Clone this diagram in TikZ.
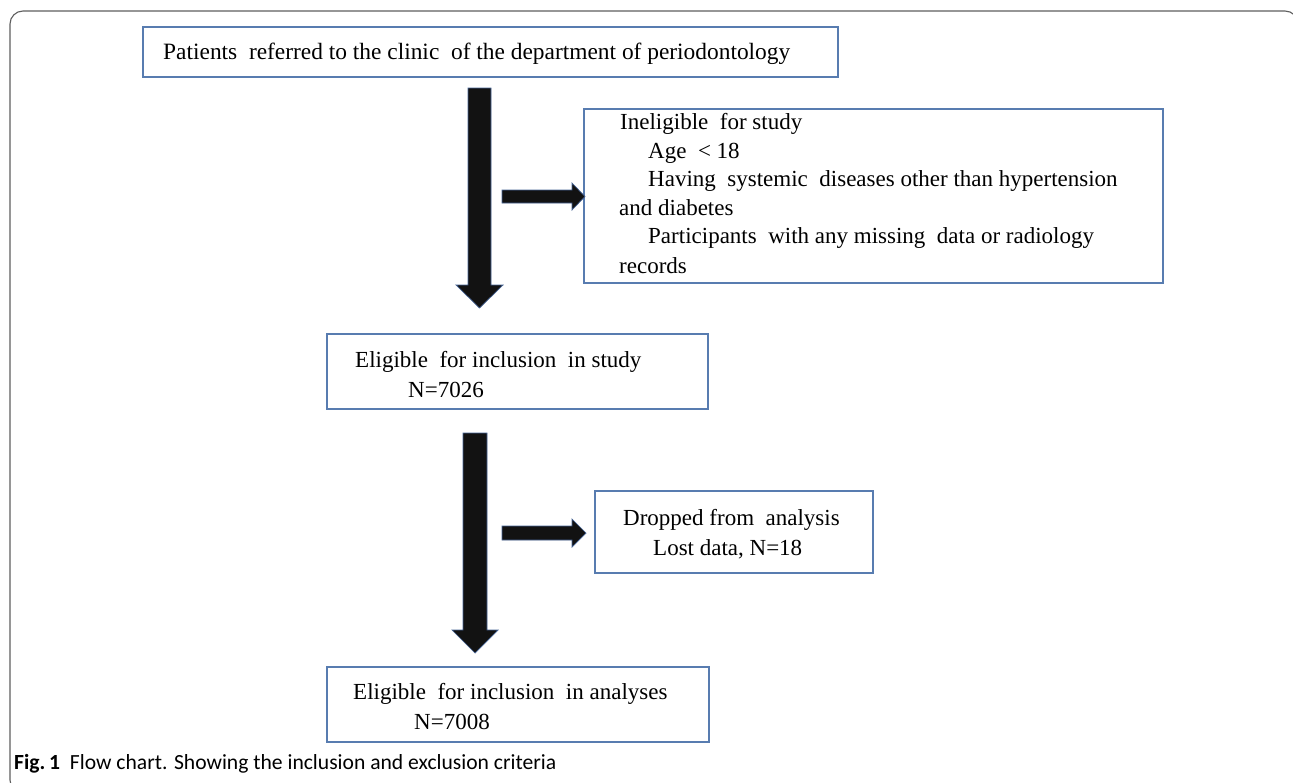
\documentclass[tikz,border=0pt]{standalone}
\usepackage{fontspec}
\setmainfont{Liberation Serif}
\newfontfamily\capfont{Carlito}
\usetikzlibrary{calc}
\definecolor{boxblue}{RGB}{88,124,176}
\definecolor{arrowedge}{RGB}{70,100,150}
\definecolor{framegray}{RGB}{95,95,95}
\tikzset{
  box/.style={draw=boxblue, line width=1.6pt, fill=white, inner sep=0pt, outer sep=0pt, anchor=north west},
  txt/.style={anchor=base west, inner sep=0pt, font=\fontsize{23}{28}\selectfont},
  blockarrow/.style={fill=black!93, draw=arrowedge, line width=0.7pt, line join=miter},
}
\newcommand{\blkdown}[5]{\filldraw[blockarrow] let \p1=(#1), \p2=(#2) in
  (\x1-#3,\y1) -- (\x1+#3,\y1) -- (\x1+#3,\y2+#5) -- (\x1+#4,\y2+#5) -- (\x2,\y2)
  -- (\x1-#4,\y2+#5) -- (\x1-#3,\y2+#5) -- cycle;}
\newcommand{\blkright}[5]{\filldraw[blockarrow] let \p1=(#1), \p2=(#2) in
  (\x1,\y1+#3) -- (\x2-#5,\y1+#3) -- (\x2-#5,\y1+#4) -- (\x2,\y2)
  -- (\x2-#5,\y1-#4) -- (\x2-#5,\y1-#3) -- (\x1,\y1-#3) -- cycle;}
\begin{document}
\begin{tikzpicture}[x=1pt, y=-1pt]
\useasboundingbox (0,0) rectangle (1293,782);
\clip (0,0) rectangle (1293,782);
\fill[white] (0,0) rectangle (1293,782);
% outer frame
\draw[framegray, line width=1.1pt, rounded corners=13pt] (10,11) rectangle (1298,793);

% boxes
\node[box, minimum width=695pt, minimum height=50pt] (top) at (143,27) {};
\node[box, minimum width=579pt, minimum height=174pt] (inel) at (584,109) {};
\node[box, minimum width=381pt, minimum height=75pt] (study) at (327,334) {};
\node[box, minimum width=278pt, minimum height=82pt] (drop) at (595,491) {};
\node[box, minimum width=382pt, minimum height=75pt] (final) at (327,667) {};

% texts
\node[txt, font=\fontsize{23.4}{28}\selectfont] (ttop) at (163,59) {Patients\ \ referred to the clinic\ \ of the department of periodontology};
\node[txt] (ti1) at (620,129) {Ineligible\ \ for study};
\node[txt] (ti2) at (648,158) {Age\ \ < 18};
\node[txt] (ti3) at (648,186) {Having\ \ systemic\ \ diseases other than hypertension};
\node[txt] (ti4) at (619,215) {and diabetes};
\node[txt] (ti5) at (648,243) {Participants\ \ with any missing\ \ data or radiology};
\node[txt] (ti6) at (619,273) {records};
\node[txt] (ts1) at (355,367) {Eligible\ \ for inclusion\ \ in study};
\node[txt] (ts2) at (408,397) {N=7026};
\node[txt] (td1) at (623,525) {Dropped from\ \ analysis};
\node[txt] (td2) at (653,555) {Lost data, N=18};
\node[txt] (tf1) at (353,699) {Eligible\ \ for inclusion\ \ in analyses};
\node[txt] (tf2) at (414,729) {N=7008};

% caption
\node[anchor=base west, inner sep=0pt, font=\capfont\fontsize{21.6}{24}\selectfont] (cap) at (14,769)
  {\textbf{Fig.\,1}\hspace{10pt}Flow chart. Showing the inclusion and exclusion criteria};

% arrows
\coordinate (a1s) at (479.5,88);
\coordinate (a1e) at (479.5,308);
\coordinate (b1s) at (502,196.5);
\coordinate (b1e) at (585,196.5);
\coordinate (a2s) at (475,433);
\coordinate (a2e) at (475,653);
\coordinate (b2s) at (502,533);
\coordinate (b2e) at (586,533);
\blkdown{a1s}{a1e}{11.5pt}{23.5pt}{23pt}
\blkright{b1s}{b1e}{6.5pt}{13.5pt}{13pt}
\blkdown{a2s}{a2e}{12pt}{23pt}{23pt}
\blkright{b2s}{b2e}{7pt}{14pt}{14pt}
\end{tikzpicture}
\end{document}
